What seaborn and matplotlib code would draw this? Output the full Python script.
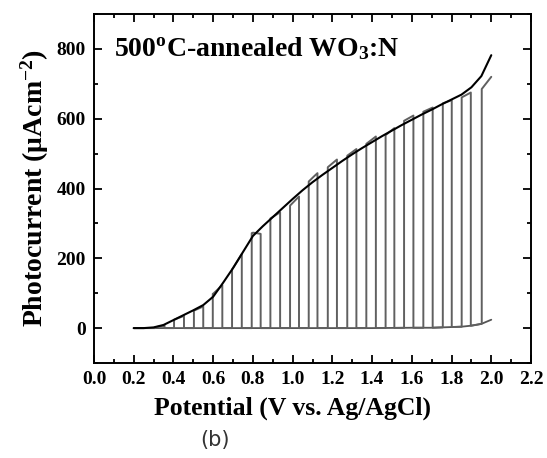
import numpy as np
import pandas as pd
import matplotlib
matplotlib.use("Agg")
import matplotlib.pyplot as plt
import seaborn as sns
from matplotlib.ticker import MultipleLocator

# ---- data ----
light_x = [0.20, 0.25, 0.30, 0.35, 0.40, 0.45, 0.50, 0.55, 0.60, 0.65, 0.70, 0.75,
           0.80, 0.85, 0.90, 0.95, 1.00, 1.05, 1.10, 1.15, 1.20, 1.25, 1.30, 1.35,
           1.40, 1.45, 1.50, 1.55, 1.60, 1.65, 1.70, 1.75, 1.80, 1.85, 1.90, 1.95, 2.00]
light_y = [0, 0, 2, 9, 23, 37, 51, 66, 90, 130, 172, 218,
           264, 292, 318, 344, 370, 395, 418, 439, 459, 479, 498, 516,
           533, 550, 566, 582, 597, 612, 626, 641, 655, 669, 690, 722, 782]

dark_x = [0.20, 0.40, 0.60, 0.80, 1.00, 1.20, 1.40, 1.60, 1.70, 1.80, 1.85, 1.90, 1.95, 2.00]
dark_y = [0, 0, 0, 0, 0, 0, 0, 1, 1, 3, 4, 7, 12, 24]

on_start = [0.307, 0.403, 0.503, 0.598, 0.695, 0.794, 0.888, 0.987, 1.081, 1.177,
            1.275, 1.371, 1.468, 1.561, 1.658, 1.756, 1.851, 1.952]
on_end = [0.355, 0.453, 0.550, 0.646, 0.744, 0.839, 0.937, 1.032, 1.125, 1.223,
          1.321, 1.419, 1.512, 1.608, 1.705, 1.801, 1.897, 2.000]
top_start = [2, 24, 50, 98, 168, 272, 314, 351, 420, 461, 494, 528, 553, 594, 620, 644, 661, 685]
top_end = [8, 35, 62, 123, 212, 270, 332, 377, 444, 483, 513, 549, 573, 609, 632, 653, 675, 720]

title_txt = "500$^{\\mathregular{o}}$C-annealed WO$_{\\mathregular{3}}$:N"
xlabel_txt = "Potential (V vs. Ag/AgCl)"
ylabel_txt = "Photocurrent (\u03bcAcm$^{\\mathregular{-2}}$)"
caption_txt = "(b)"

# ---- build chopped trace path from the values above ----
def env(x):
    return np.interp(x, light_x, light_y)

def dark(x):
    return np.interp(x, dark_x, dark_y)

cx, cy = [], []
prev = light_x[0]
for i, (s, e, a, b) in enumerate(zip(on_start, on_end, top_start, top_end)):
    seg = np.linspace(prev, s, 6)
    cx += list(seg); cy += list(dark(seg))
    tx = np.linspace(s, e, 12)
    t = (tx - s) / (e - s)
    off = (a - env(s)) * (1 - t) + (b - env(e)) * t
    cx += list(tx); cy += list(env(tx) + off)
    if i < len(on_start) - 1:
        cx.append(e); cy.append(dark(e))
        prev = e

chop = pd.DataFrame({"x": cx, "y": cy})
light = pd.DataFrame({"x": light_x, "y": light_y})
darkdf = pd.DataFrame({"x": dark_x, "y": dark_y})

sns.set_theme(style="ticks")
plt.rcParams.update({
    "font.family": ["Liberation Serif", "DejaVu Serif"],
    "font.weight": "bold",
    "mathtext.fontset": "custom",
    "mathtext.rm": "Liberation Serif:bold",
    "mathtext.it": "Liberation Serif:italic:bold",
    "mathtext.bf": "Liberation Serif:bold",
    "axes.linewidth": 1.4,
})

fig = plt.figure(figsize=(5.47, 4.58), dpi=100)
ax = fig.add_axes([94 / 547, 1 - 363 / 458, (531 - 94) / 547, (363 - 14) / 458])

sns.lineplot(data=darkdf, x="x", y="y", ax=ax, color="#555555", lw=1.3,
             estimator=None, sort=False, zorder=2)
sns.lineplot(data=chop, x="x", y="y", ax=ax, color="#606060", lw=1.4,
             estimator=None, sort=False, zorder=3)
sns.lineplot(data=light, x="x", y="y", ax=ax, color="black", lw=1.5,
             estimator=None, sort=False, zorder=4)

ax.set_xlim(0.0, 2.2)
ax.set_ylim(-100, 900)
ax.xaxis.set_major_locator(MultipleLocator(0.2))
ax.xaxis.set_minor_locator(MultipleLocator(0.1))
ax.yaxis.set_major_locator(MultipleLocator(200))
ax.yaxis.set_minor_locator(MultipleLocator(100))
ax.set_xticks(np.arange(0, 2.21, 0.2))
ax.set_xticklabels([f"{v:.1f}" for v in np.arange(0, 2.21, 0.2)])
ax.set_yticks([0, 200, 400, 600, 800])
ax.tick_params(which="both", direction="in", top=True, right=True, width=1.3, colors="black")
ax.tick_params(which="major", length=6, labelsize=14, pad=6)
ax.tick_params(which="minor", length=3)
for lab in ax.get_xticklabels() + ax.get_yticklabels():
    lab.set_fontweight("bold")
for sp in ax.spines.values():
    sp.set_color("black")

ax.set_xlabel(xlabel_txt, fontsize=18.5, fontweight="bold", color="black")
ax.xaxis.set_label_coords((293 - 94) / 437, -0.095)
ax.set_ylabel(ylabel_txt, fontsize=20, fontweight="bold", labelpad=4, color="black")
ax.text(0.10, 800, title_txt, fontsize=20, fontweight="bold", va="center", ha="left", color="black")

fig.text(215 / 547, 1 - 440 / 458, caption_txt, fontsize=15, family="DejaVu Sans",
         fontweight="normal", color="#333333", ha="center", va="center")

fig.savefig("out.png", dpi=100)
